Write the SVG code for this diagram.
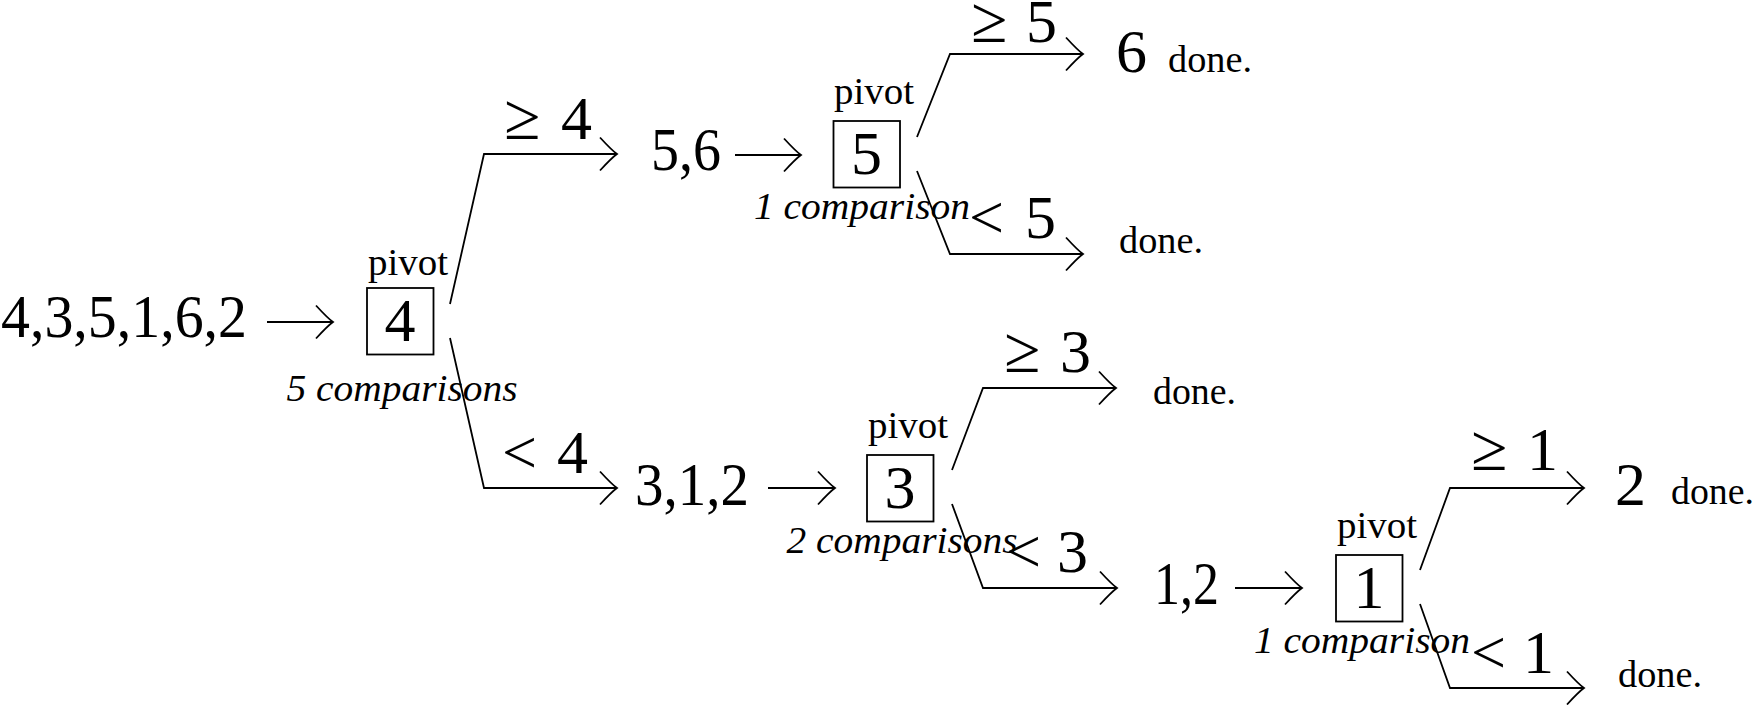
<svg xmlns="http://www.w3.org/2000/svg" width="1762" height="705" viewBox="0 0 1762 705">
<style>
  .m { font-family: "Liberation Serif", "DejaVu Serif", serif; font-size: 62px; fill: #000; }
  .ge { font-size: 66px; }
  .t { font-family: "Liberation Serif", "DejaVu Serif", serif; font-size: 38px; fill: #000; }
  .it { font-family: "Liberation Serif", "DejaVu Serif", serif; font-size: 38px; font-style: italic; fill: #000; }
  .box { fill: none; stroke: #000; stroke-width: 1.8; }
  .arr { fill: none; stroke: #000; stroke-width: 1.8; marker-end: url(#ah); }
</style>
<defs>
  <marker id="ah" markerUnits="userSpaceOnUse" markerWidth="40" markerHeight="40" viewBox="-20 -20 40 40" refX="0" refY="0" orient="auto" overflow="visible">
    <path d="M-17,-16.5 Q-5,-3.5 0,0 Q-5,3.5 -17,16.5" fill="none" stroke="#000" stroke-width="1.8"/>
  </marker>
</defs>
<rect width="1762" height="705" fill="#fff"/>

<g id="connectors">
  <line class="arr" x1="267" y1="322" x2="333" y2="322"/>
  <polyline class="arr" points="450,304 484,154 617,154"/>
  <polyline class="arr" points="450,338 484,488 617,488"/>
  <line class="arr" x1="735" y1="155" x2="801" y2="155"/>
  <polyline class="arr" points="917,137 950,54 1083,54"/>
  <polyline class="arr" points="917,171 950,254 1083,254"/>
  <line class="arr" x1="768" y1="488" x2="835" y2="488"/>
  <polyline class="arr" points="952,470 983,388 1116,388"/>
  <polyline class="arr" points="952,504 983,588 1117,588"/>
  <line class="arr" x1="1235" y1="588" x2="1302" y2="588"/>
  <polyline class="arr" points="1420,570 1450,488 1584,488"/>
  <polyline class="arr" points="1420,604 1450,688 1584,688"/>
</g>

<g id="labels">
  <text class="m" x="504" y="139"><tspan class="ge">≥ </tspan><tspan x="561">4</tspan></text>
  <text class="m" x="502" y="473">&lt; <tspan x="557">4</tspan></text>
  <text class="m" x="971" y="42"><tspan class="ge">≥ </tspan><tspan x="1026">5</tspan></text>
  <text class="m" x="969" y="238">&lt; <tspan x="1025">5</tspan></text>
  <text class="m" x="1004" y="372"><tspan class="ge">≥ </tspan><tspan x="1060">3</tspan></text>
  <text class="m" x="1006" y="572">&lt; <tspan x="1057">3</tspan></text>
  <text class="m" x="1471" y="470"><tspan class="ge">≥ </tspan><tspan x="1527">1</tspan></text>
  <text class="m" x="1471" y="673">&lt; <tspan x="1523">1</tspan></text>
</g>

<g id="input">
  <text class="m" x="1" y="337" textLength="246" lengthAdjust="spacingAndGlyphs">4,3,5,1,6,2</text>
</g>

<g id="pivot4">
  <text class="t" x="368" y="275" textLength="80" lengthAdjust="spacingAndGlyphs">pivot</text>
  <rect class="box" x="367" y="288" width="66.5" height="66.5"/>
  <text class="m" x="400" y="341" text-anchor="middle">4</text>
  <text class="it" x="402" y="401" text-anchor="middle" textLength="231" lengthAdjust="spacingAndGlyphs">5 comparisons</text>
</g>

<g id="list56">
  <text class="m" x="651" y="170" textLength="70" lengthAdjust="spacingAndGlyphs">5,6</text>
</g>

<g id="pivot5">
  <text class="t" x="834" y="104" textLength="80" lengthAdjust="spacingAndGlyphs">pivot</text>
  <rect class="box" x="833.5" y="121" width="66.5" height="66.5"/>
  <text class="m" x="866.5" y="174" text-anchor="middle">5</text>
  <text class="it" x="862" y="219" text-anchor="middle" textLength="216" lengthAdjust="spacingAndGlyphs">1 comparison</text>
</g>

<g id="leaf6">
  <text class="m" x="1116" y="72">6</text>
  <text class="t" x="1168" y="72" textLength="84" lengthAdjust="spacingAndGlyphs">done.</text>
</g>

<g id="leaf-lt5">
  <text class="t" x="1119" y="253" textLength="84" lengthAdjust="spacingAndGlyphs">done.</text>
</g>

<g id="list312">
  <text class="m" x="635" y="505" textLength="114" lengthAdjust="spacingAndGlyphs">3,1,2</text>
</g>

<g id="pivot3">
  <text class="t" x="868" y="438" textLength="80" lengthAdjust="spacingAndGlyphs">pivot</text>
  <rect class="box" x="867" y="455" width="66.5" height="66.5"/>
  <text class="m" x="900" y="508" text-anchor="middle">3</text>
  <text class="it" x="902" y="553" text-anchor="middle" textLength="231" lengthAdjust="spacingAndGlyphs">2 comparisons</text>
</g>

<g id="leaf-ge3">
  <text class="t" x="1153" y="404" textLength="83" lengthAdjust="spacingAndGlyphs">done.</text>
</g>

<g id="list12">
  <text class="m" x="1154" y="604" textLength="65" lengthAdjust="spacingAndGlyphs">1,2</text>
</g>

<g id="pivot1">
  <text class="t" x="1337" y="538" textLength="80" lengthAdjust="spacingAndGlyphs">pivot</text>
  <rect class="box" x="1336" y="555" width="66.5" height="66.5"/>
  <text class="m" x="1369" y="608" text-anchor="middle">1</text>
  <text class="it" x="1362" y="653" text-anchor="middle" textLength="216" lengthAdjust="spacingAndGlyphs">1 comparison</text>
</g>

<g id="leaf2">
  <text class="m" x="1615" y="505">2</text>
  <text class="t" x="1671" y="504" textLength="83" lengthAdjust="spacingAndGlyphs">done.</text>
</g>

<g id="leaf-lt1">
  <text class="t" x="1618" y="687" textLength="84" lengthAdjust="spacingAndGlyphs">done.</text>
</g>
</svg>
